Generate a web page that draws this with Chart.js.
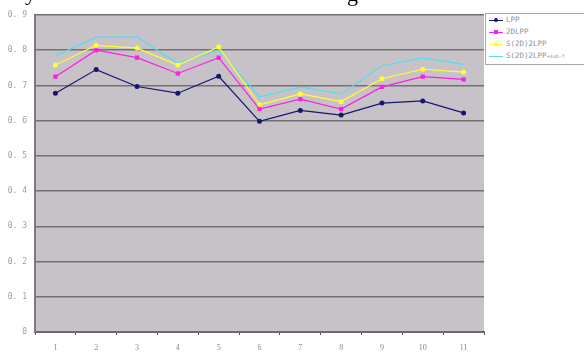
<!DOCTYPE html>
<html>
<head>
<meta charset="utf-8">
<script src="https://cdn.jsdelivr.net/npm/chart.js@4/dist/chart.umd.min.js"></script>
<style>
    html, body { margin: 0; padding: 0; background: #fff; }
    #wrap { position: relative; width: 584px; height: 352px; }
    #legend {
        position: absolute; left: 485px; top: 13px; width: 104px; height: 52px;
        border: 1px solid #a8a8a8; background: #fff; box-sizing: border-box;
        font: 7.5px "DejaVu Sans Mono", monospace; color: #8f8fa0;
    }
    #legend div { position: relative; height: 12px; line-height: 12px; padding-left: 20px; }
    #legend i { position: absolute; left: 3px; top: 6px; width: 14px; height: 1px; }
    #legend b { position: absolute; left: 8px; top: 4px; width: 4px; height: 4px; }
    #legend small { font-size: 5px; }
</style>
</head>
<body>
<div id="wrap">
    <canvas id="myChart" width="584" height="352"></canvas>
    <div id="legend"></div>
</div>
<script>
var categories = ['1', '2', '3', '4', '5', '6', '7', '8', '9', '10', '11'];
var lppValues = [0.678, 0.745, 0.697, 0.678, 0.726, 0.598, 0.629, 0.616, 0.650, 0.656, 0.622];
var dlppValues = [0.725, 0.800, 0.779, 0.734, 0.779, 0.633, 0.661, 0.633, 0.696, 0.725, 0.717];
var s2dValues = [0.758, 0.814, 0.806, 0.758, 0.809, 0.645, 0.676, 0.654, 0.719, 0.746, 0.738];
var subfValues = [0.784, 0.837, 0.837, 0.763, 0.801, 0.668, 0.695, 0.676, 0.756, 0.778, 0.760];
var seriesNames = ['LPP', '2DLPP', 'S(2D)2LPP', 'S(2D)2LPP+sub-f'];
var seriesColors = ['#16166e', '#ff1ee6', '#ffff30', '#55dcf2'];
var yTicks = [0, 0.1, 0.2, 0.3, 0.4, 0.5, 0.6, 0.7, 0.8, 0.9];

// grey plot background + cut-off caption letters at the top
var plotBg = {
    id: 'plotBg',
    beforeDraw: function (chart) {
        var a = chart.chartArea, ctx = chart.ctx;
        ctx.save();
        ctx.fillStyle = '#c6c2c7';
        ctx.fillRect(a.left, a.top, a.right - a.left, a.bottom - a.top);
        ctx.fillStyle = '#000';
        ctx.font = '22px "Liberation Serif", serif';
        ctx.textBaseline = 'alphabetic';
        ctx.fillText('y', 25, 0);
        ctx.fillText('g', 347, 1);
        ctx.restore();
    }
};

function makeSet(i, data, style, radius) {
    return {
        label: seriesNames[i],
        data: data,
        borderColor: seriesColors[i],
        backgroundColor: seriesColors[i],
        borderWidth: 1.2,
        pointStyle: style,
        pointRadius: radius,
        pointBorderWidth: 0,
        tension: 0
    };
}

var ctx = document.getElementById('myChart');
var myChart = new Chart(ctx, {
    type: 'line',
    data: {
        labels: categories,
        datasets: [
            makeSet(0, lppValues, 'circle', 2.5),
            makeSet(1, dlppValues, 'rect', 3),
            makeSet(2, s2dValues, 'circle', 2.5),
            makeSet(3, subfValues, false, 0)
        ]
    },
    plugins: [plotBg],
    options: {
        responsive: false,
        animation: false,
        layout: { padding: { top: 15, right: 100, left: 0, bottom: 0 } },
        plugins: {
            legend: { display: false },
            tooltip: { enabled: false }
        },
        scales: {
            x: {
                offset: true,
                afterFit: function (s) { s.height = 20; },
                grid: {
                    offset: true,
                    drawOnChartArea: false,
                    tickLength: 3,
                    color: '#555'
                },
                border: { color: '#6a6a6a', width: 2 },
                ticks: {
                    color: '#8a8a8a',
                    font: { size: 8, family: '"Liberation Serif", serif' },
                    padding: 8
                }
            },
            y: {
                min: 0,
                max: 0.9,
                afterFit: function (s) { s.width = 35; },
                afterBuildTicks: function (s) {
                    s.ticks = yTicks.map(function (v) { return { value: v }; });
                },
                grid: {
                    color: '#727272',
                    lineWidth: 1.5,
                    drawTicks: false
                },
                border: { color: '#7a7a7a', width: 2 },
                ticks: {
                    color: '#a0a0a0',
                    padding: 8,
                    font: { size: 8, family: '"DejaVu Sans Mono", monospace' },
                    callback: function (value) {
                        return value === 0 ? '0' : value.toFixed(1).replace('.', '. ');
                    }
                }
            }
        }
    }
});

// html legend built from the series arrays
var legend = document.getElementById('legend');
seriesNames.forEach(function (name, i) {
    var row = document.createElement('div');
    var marker = i < 3 ? '<b style="background:' + seriesColors[i] + (i === 1 ? '' : ';border-radius:2px') + '"></b>' : '';
    var label = name.replace('+sub-f', '<small>+sub-f</small>');
    row.innerHTML = '<i style="background:' + seriesColors[i] + '"></i>' + marker + label;
    legend.appendChild(row);
});
</script>
</body>
</html>
